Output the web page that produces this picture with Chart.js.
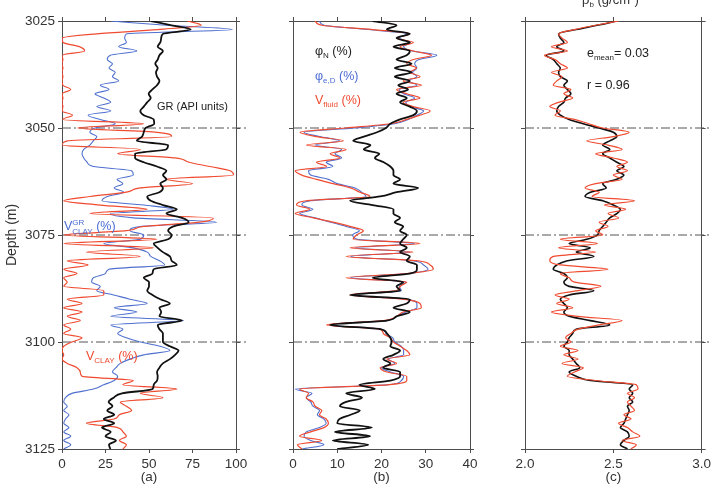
<!DOCTYPE html>
<html><head><meta charset="utf-8">
<script src="https://cdn.jsdelivr.net/npm/chart.js@4.4.1/dist/chart.umd.min.js"></script>
<style>
html,body{margin:0;padding:0;background:#fff;width:714px;height:493px;overflow:hidden;font-family:'Liberation Sans',Arial,sans-serif;}
.cv{position:absolute;left:0;top:0;}
.lab{position:absolute;white-space:nowrap;line-height:1;font-size:12px;}
.sub{font-size:8px;position:relative;top:3px;}
.stack{display:inline-block;vertical-align:-4px;font-size:8px;line-height:9px;}
.stack span{display:block;}
</style></head><body>
<canvas id="ca" class="cv" width="714" height="493"></canvas>
<canvas id="cb" class="cv" width="714" height="493"></canvas>
<canvas id="cc" class="cv" width="714" height="493"></canvas>

<div class="lab" style="left:157px;top:101px;color:#222;font-size:11px">GR (API units)</div>
<div class="lab" style="left:64px;top:218px;color:#4b6cd3;font-size:12.5px">V<span class="stack"><span>GR</span><span>CLAY</span></span> (%)</div>
<div class="lab" style="left:86px;top:350px;color:#ef4a2f;font-size:12.5px">V<span class="sub">CLAY</span> (%)</div>

<div class="lab" style="left:315px;top:45px;color:#222;font-size:12.5px">φ<span class="sub">N</span> (%)</div>
<div class="lab" style="left:315px;top:70px;color:#4b6cd3;font-size:12.5px">φ<span class="sub">e,D</span> (%)</div>
<div class="lab" style="left:315px;top:94px;color:#ef4a2f;font-size:12.5px">V<span class="sub">fluid</span> (%)</div>

<div class="lab" style="left:587px;top:47px;color:#222;font-size:12.5px">e<span class="sub">mean</span>= 0.03</div>
<div class="lab" style="left:587px;top:79px;color:#222;font-size:12.5px">r = 0.96</div>
<div class="lab" style="left:582px;top:-7px;color:#333;font-size:13px">ρ<span class="sub">b</span> (g/cm<sup style="font-size:8px">3</sup>)</div>

<script>
const depth = [3025,3026,3027,3028,3029,3030,3031,3032,3033,3034,
3035,3036,3037,3038,3039,3040,3041,3042,3043,3044,
3045,3046,3047,3048,3049,3050,3051,3052,3053,3054,
3055,3056,3057,3058,3059,3060,3061,3062,3063,3064,
3065,3066,3067,3068,3069,3070,3071,3072,3073,3074,
3075,3076,3077,3078,3079,3080,3081,3082,3083,3084,
3085,3086,3087,3088,3089,3090,3091,3092,3093,3094,
3095,3096,3097,3098,3099,3100,3101,3102,3103,3104,
3105,3106,3107,3108,3109,3110,3111,3112,3113,3114,
3115,3116,3117,3118,3119,3120,3121,3122,3123,3124,
3125];

// (a) gamma ray and clay volumes
const grAPI = [51,63,74,58,57,56.5,55,58,56,55,
53.6,55,54,54.6,56,54.6,52,49.8,51,48.9,
47,45,47,52.7,53,48,47,46,43,61,
60,42,42,47,54.6,60,58,60,56.5,58,
56,49,51,58,66,60,69,72.8,64,61,
63,61,52.7,55,58,62,63,66,52.7,52,
47,50,50,49,52,56.5,62,56,57,56,
69,55,56,58,58,58,62,67,65,62,
58,56,54.6,55,54.6,52.7,52,34.5,29.7,26.8,
29,26,30,24,30,23,28,25,31,27,
27.8];
const vclayGR = [28,60,98,37,36,37,32.6,43,27.8,26,
29,27,30.6,29,32.6,22,27,19,24,28,
20,28,15,22,30.6,19,16,20,18,16,
12.5,11.5,12.5,14.4,18,40,41,31.6,35,30,
35.4,26,23,47,64,27.8,41,89,45,39,
47,45,24,41,49,51,56,59,27,25,
18,17,22,20,29.7,39,49,30,43,28,
70,28,35,32,37,45,56.5,62,47,39,
33.5,31,29,32,30,24,18,5.7,2,1,
3,1,4,2,1,4,1,5,1,5,
1];
const vclay = [72,80,55,20,0,0.5,10,13,0,0.5,
0,0.5,0,0.5,0,0.5,5,0,0.5,0,
0.5,0,6,0.5,47,9,54.6,63,3,0,
45,32,65,73,85,96.7,98.6,60,75,45,
37,16,1,22,49,16,87,79,47,37,
1,54.6,1,52.7,14,45,3,15,1,8.6,
1,3,1,24,24,3,11.5,1,11.5,3,
10.5,1,5,1,11.5,5.7,1,0,1,0,
3,8.6,10.5,11.5,41,35,66,45,58,33.5,
37,40,33,30,14,32,35,37,33,37,
35];

// (b) porosities
const phiN = [18,23.4,21.2,26.4,23.4,26.4,22.7,26.4,25.7,23.4,
26.8,23,26.8,23,26.4,23.8,26,23.4,25.7,24.2,
26.4,28,27.2,24.2,22,21,19,16,13.6,17.5,
16,19.5,18.5,20.5,22,22.7,22.7,24.2,22.7,28.3,
23.4,19.7,12.9,18,22.7,22.7,24.2,23,24.9,24.2,
25.7,24.9,24.2,25.7,24.2,26.4,25.7,28,28,26.4,
18,24.9,23.4,24.2,12.9,26.4,25.7,22.7,26.4,23.4,
21.2,8.4,19.7,21.2,22,22.3,22,24.2,22.7,20.4,
22,20.4,24.2,24.2,22,15,18.5,12,15.6,12,
10.6,15.1,13,10.5,10,17.8,9.5,17.4,9,17,
10];
const phiED = [6,7,17,25.7,24,26.5,25,27,32.5,28.5,
27.5,28,27,28,26,28,24,25,27.5,25.5,
26.5,29.5,28,26,23,14,2.5,6,10.5,5,
11,9.5,11,7.5,9,3.5,4,8,10,14,
15.5,16.5,4,2,4.5,1.5,5,8.5,12,15,
13.5,14.5,27.5,14,26.5,13,27,29.5,30.5,26,
13,25.5,24,24.5,13.5,25.5,28,28,25.5,23.5,
21,8.5,20,21,22.5,23,24.5,25,25,21.5,
23,20,22,25,24.5,21.5,0.5,4.3,3,4,
4.5,6,5.5,7,7.5,6,3,2.5,4,7,
2];
const vfluid = [5,6.5,18,26.4,23.4,27.2,24.2,27.2,31.3,27.2,
25.7,27.9,26.4,28.7,24.9,29,23.4,25.7,28.7,24.9,
27.2,31,28.7,25.7,22,12,1.6,5.3,11.4,3,
12,8.4,10.6,5.3,7.6,0.5,2,5.3,9.1,13,
15.1,17.4,3,0.8,3.8,0.5,4.6,9.1,12.9,15.9,
14.4,13.6,28.7,12.9,27.2,12,27.9,31,31.7,25.7,
12,25.7,24.2,23.4,12.9,24.9,28.7,29,24.9,23.4,
20.4,7.6,19.7,20.4,22,22.7,24.2,25.7,26.4,21.2,
23.4,19.7,21.2,25.7,25.7,21.2,1.5,3.5,3,4.5,
5,6.5,6,7.5,8,7,4,1.5,6.5,1,
2];

// (c) bulk density
const rhoLog = [2.52,2.41,2.29,2.19,2.2,2.22,2.18,2.22,2.12,2.16,
2.18,2.2,2.19,2.2,2.24,2.22,2.24,2.26,2.23,2.22,
2.19,2.18,2.2,2.25,2.33,2.42,2.5,2.52,2.48,2.44,
2.48,2.44,2.48,2.52,2.56,2.52,2.56,2.52,2.44,2.46,
2.37,2.34,2.44,2.5,2.54,2.52,2.48,2.46,2.44,2.42,
2.41,2.35,2.25,2.37,2.29,2.39,2.24,2.18,2.16,2.22,
2.24,2.22,2.25,2.39,2.25,2.2,2.22,2.24,2.22,2.25,
2.37,2.48,2.29,2.27,2.25,2.24,2.22,2.25,2.25,2.27,
2.29,2.31,2.25,2.29,2.37,2.61,2.59,2.61,2.59,2.61,
2.58,2.59,2.58,2.57,2.56,2.54,2.58,2.59,2.56,2.54,
2.58];
const rhoModel = [2.53,2.4,2.28,2.19,2.21,2.24,2.15,2.24,2.11,2.17,
2.2,2.24,2.15,2.21,2.18,2.16,2.26,2.22,2.27,2.19,
2.14,2.2,2.17,2.28,2.36,2.44,2.59,2.5,2.35,2.47,
2.55,2.4,2.5,2.58,2.52,2.58,2.5,2.55,2.4,2.34,
2.42,2.38,2.62,2.45,2.57,2.47,2.53,2.42,2.47,2.4,
2.44,2.2,2.41,2.19,2.4,2.16,2.14,2.2,2.47,2.2,
2.25,2.28,2.43,2.3,2.17,2.25,2.18,2.27,2.15,2.3,
2.55,2.42,2.3,2.26,2.23,2.26,2.2,2.3,2.22,2.3,
2.21,2.33,2.28,2.24,2.4,2.63,2.64,2.58,2.62,2.58,
2.6,2.62,2.56,2.6,2.53,2.58,2.61,2.65,2.55,2.63,
2.6];

const refDepths = [3050, 3075, 3100];
const depthTicks = [3025, 3050, 3075, 3100, 3125];
const ticksA = [0, 25, 50, 75, 100];
const ticksB = [0, 10, 20, 30, 40];
const ticksC = [2.0, 2.5, 3.0];

const BLACK = '#111111', BLUE = '#4f70cf', RED = '#f04b30', AXIS = '#4d4d4d', TXT = '#333333';
Chart.defaults.font.family = "'Liberation Sans', Arial, sans-serif";
Chart.defaults.color = TXT;

function pts(vals) { return vals.map((v, i) => ({ x: v, y: depth[i] })); }

function panel(id, o) {
  const ds = o.series.map(s => ({
    data: pts(s.values), borderColor: s.color, borderWidth: s.width,
    pointRadius: 0, fill: false, cubicInterpolationMode: 'monotone',
    xAxisID: 'x', yAxisID: 'y'
  }));
  refDepths.forEach(d => ds.push({
    data: [{ x: o.min, y: d }, { x: o.refTo, y: d }],
    borderColor: '#555', borderWidth: 1, borderDash: [9, 3, 2, 3],
    pointRadius: 0, fill: false, tension: 0, clip: false,
    xAxisID: 'x', yAxisID: 'y'
  }));
  const gridOpts = { drawOnChartArea: false, drawTicks: true, tickLength: 4, color: AXIS, lineWidth: 1 };
  const borderOpts = { display: true, color: AXIS, width: 1 };
  const setTicks = arr => s => { s.ticks = arr.map(v => ({ value: v })); };
  new Chart(document.getElementById(id), {
    type: 'line',
    data: { datasets: ds },
    options: {
      responsive: false, animation: false, indexAxis: 'y',
      layout: { padding: { left: o.padL, right: o.padR, top: 21, bottom: 0 } },
      plugins: { legend: { display: false }, tooltip: { enabled: false } },
      scales: {
        x: {
          type: 'linear', position: 'bottom', min: o.min, max: o.max,
          afterBuildTicks: setTicks(o.ticks),
          ticks: { color: TXT, font: { size: 13.5 }, padding: 3, maxRotation: 0, autoSkip: false,
                   callback: v => o.fmt ? v.toFixed(1) : String(v) },
          grid: gridOpts, border: borderOpts,
          title: { display: true, text: o.label, color: TXT, font: { size: 13.5 }, padding: { top: 0, bottom: 8 } },
          afterFit: s => { s.height = 44; }
        },
        xTop: {
          type: 'linear', position: 'top', min: o.min, max: o.max,
          afterBuildTicks: setTicks(o.ticks),
          ticks: { display: false }, grid: gridOpts, border: borderOpts,
          afterFit: s => { s.height = 0; }
        },
        y: {
          type: 'linear', position: 'left', reverse: true, min: 3025, max: 3125,
          afterBuildTicks: setTicks(depthTicks),
          ticks: { display: o.showY, color: TXT, font: { size: 13.5 }, padding: 3, autoSkip: false,
                   callback: v => String(v) },
          grid: gridOpts, border: borderOpts,
          title: { display: o.showY, text: 'Depth (m)', color: TXT, font: { size: 14 }, padding: { top: 4, bottom: 0 } },
          afterFit: s => { s.width = o.yWidth; }
        },
        yRight: {
          type: 'linear', position: 'right', reverse: true, min: 3025, max: 3125,
          afterBuildTicks: setTicks(depthTicks),
          ticks: { display: false }, grid: gridOpts, border: borderOpts,
          afterFit: s => { s.width = 0; }
        }
      }
    }
  });
}

panel('ca', {
  min: 0, max: 100, refTo: 106, ticks: ticksA, label: '(a)', showY: true, yWidth: 62,
  padL: 0, padR: 478, fmt: false,
  series: [
    { values: grAPI, color: BLACK, width: 1.8 },
    { values: vclay, color: RED, width: 1.2 },
    { values: vclayGR, color: BLUE, width: 1.1 }
  ]
});
panel('cb', {
  min: 0, max: 40, refTo: 40, ticks: ticksB, label: '(b)', showY: false, yWidth: 0,
  padL: 293, padR: 244, fmt: false,
  series: [
    { values: phiN, color: BLACK, width: 1.8 },
    { values: vfluid, color: RED, width: 1.2 },
    { values: phiED, color: BLUE, width: 1.1 }
  ]
});
panel('cc', {
  min: 2.0, max: 3.0, refTo: 3.055, ticks: ticksC, label: '(c)', showY: false, yWidth: 0,
  padL: 525, padR: 12, fmt: true,
  series: [
    { values: rhoModel, color: RED, width: 1.2 },
    { values: rhoLog, color: BLACK, width: 1.6 }
  ]
});
</script>
</body></html>
